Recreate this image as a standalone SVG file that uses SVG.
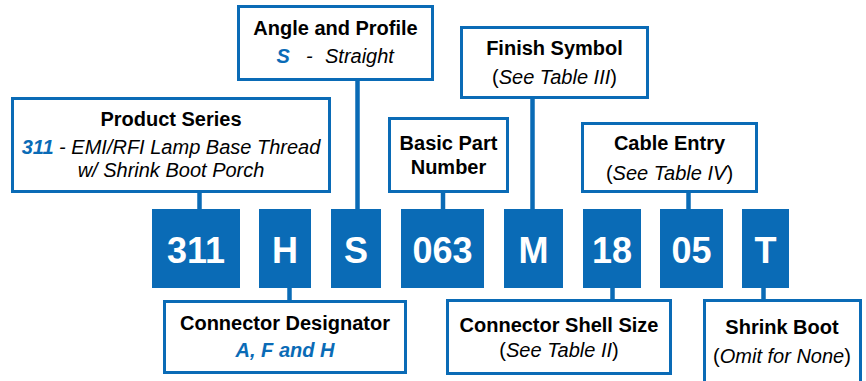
<svg xmlns="http://www.w3.org/2000/svg" width="866" height="381" viewBox="0 0 866 381">
<style>
.lbl{fill:#fff;stroke:#0a6bb6;stroke-width:3}
.code{fill:#0a6bb6}
.wire{stroke:#0a6bb6;stroke-width:4.5;fill:none}
text{font-family:"Liberation Sans",Arial,sans-serif;font-size:20px;fill:#000}
.t{font-weight:bold;text-anchor:middle}
.s{text-anchor:middle}
.i{font-style:italic}
.b{fill:#0a6bb6;font-weight:bold;font-style:italic}
.num{font-size:36px;font-weight:bold;fill:#fff;text-anchor:middle}
</style>
<rect width="866" height="381" fill="#fff"/>
<g id="connectors">
<line class="wire" x1="199.5" y1="192" x2="199.5" y2="210"/>
<line class="wire" x1="357.5" y1="80" x2="357.5" y2="210"/>
<line class="wire" x1="443" y1="192" x2="443" y2="210"/>
<line class="wire" x1="532.5" y1="98" x2="532.5" y2="210"/>
<line class="wire" x1="688.5" y1="192" x2="688.5" y2="210"/>
<line class="wire" x1="289.5" y1="287" x2="289.5" y2="301"/>
<line class="wire" x1="612.5" y1="287" x2="612.5" y2="300"/>
<line class="wire" x1="763.5" y1="287" x2="763.5" y2="300"/>
</g>
<g id="angle">
<rect class="lbl" x="238.5" y="6.5" width="194" height="73"/>
<text class="t" x="335.5" y="35">Angle and Profile</text>
<text y="63"><tspan class="b" x="276.5">S</tspan><tspan class="i" x="306">-</tspan><tspan class="i" x="325">Straight</tspan></text>
</g>
<g id="product">
<rect class="lbl" x="12.5" y="98.5" width="317" height="93"/>
<text class="t" x="171" y="126">Product Series</text>
<text class="s" x="171" y="154"><tspan class="b">311</tspan><tspan class="i"> - EMI/RFI Lamp Base Thread</tspan></text>
<text class="s i" x="171" y="177">w/ Shrink Boot Porch</text>
</g>
<g id="basic">
<rect class="lbl" x="389.5" y="118.5" width="118" height="73"/>
<text class="t" x="448.5" y="150">Basic Part</text>
<text class="t" x="448.5" y="174">Number</text>
</g>
<g id="finish">
<rect class="lbl" x="461.5" y="27.5" width="186" height="70"/>
<text class="t" x="554.5" y="55">Finish Symbol</text>
<text class="s" x="554.5" y="84">(<tspan class="i">See Table III</tspan>)</text>
</g>
<g id="cable">
<rect class="lbl" x="582.5" y="123.5" width="174" height="68"/>
<text class="t" x="669.5" y="150">Cable Entry</text>
<text class="s" x="669.5" y="180">(<tspan class="i">See Table IV</tspan>)</text>
</g>
<g id="designator">
<rect class="lbl" x="164.5" y="301.5" width="241" height="71"/>
<text class="t" x="285" y="330">Connector Designator</text>
<text class="s b" x="285" y="357">A, F and H</text>
</g>
<g id="shell">
<rect class="lbl" x="447.5" y="300.5" width="223" height="73"/>
<text class="t" x="559" y="332">Connector Shell Size</text>
<text class="s" x="559" y="357">(<tspan class="i">See Table II</tspan>)</text>
</g>
<g id="boot">
<rect class="lbl" x="704.5" y="300.5" width="156" height="100"/>
<text class="t" x="782" y="334">Shrink Boot</text>
<text class="s" x="782" y="363">(<tspan class="i">Omit for None</tspan>)</text>
</g>
<g id="c311"><rect class="code" x="152" y="209" width="88" height="79"/><text class="num" x="196" y="263">311</text></g>
<g id="cH"><rect class="code" x="259" y="209" width="52" height="79"/><text class="num" x="285" y="263">H</text></g>
<g id="cS"><rect class="code" x="331" y="209" width="50" height="79"/><text class="num" x="356" y="263">S</text></g>
<g id="c063"><rect class="code" x="401" y="209" width="83" height="79"/><text class="num" x="442.5" y="263">063</text></g>
<g id="cM"><rect class="code" x="504" y="209" width="59" height="79"/><text class="num" x="533.5" y="263">M</text></g>
<g id="c18"><rect class="code" x="583" y="209" width="58" height="79"/><text class="num" x="612" y="263">18</text></g>
<g id="c05"><rect class="code" x="660" y="209" width="63" height="79"/><text class="num" x="691.5" y="263">05</text></g>
<g id="cT"><rect class="code" x="742" y="209" width="47" height="79"/><text class="num" x="765.5" y="263">T</text></g>
</svg>
